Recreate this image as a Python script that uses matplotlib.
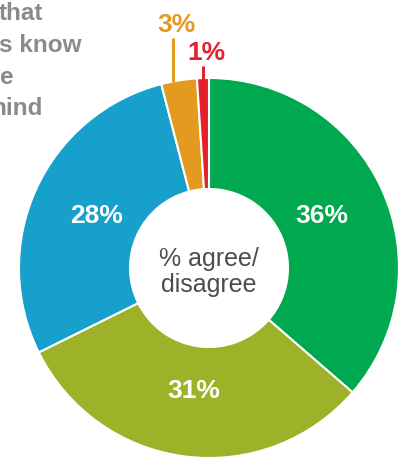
import matplotlib.pyplot as plt
import numpy as np

# slice values, clockwise from the top
labels = ['36%', '31%', '28%', '3%', '1%']
values = [36, 31, 28, 3, 1]
colors = ['#00A84F', '#9DB228', '#16A0CB', '#E39A1E', '#E4202B']
heading_lines = ['that', 's know', 'e', 'hind']
center_text = '% agree/\ndisagree'

W, H = 402, 459
plt.rcParams['font.family'] = ['Liberation Sans', 'DejaVu Sans']

fig = plt.figure(figsize=(W / 100, H / 100), dpi=100)
ax = fig.add_axes([0, 0, 1, 1])

cx, cy, r = 209, H - 268, 190
wedges, _ = ax.pie(values, colors=colors, startangle=90, counterclock=False,
                   center=(cx, cy), radius=r,
                   wedgeprops=dict(width=r - 79, edgecolor='white', linewidth=1.5))
ax.set_xlim(0, W)
ax.set_ylim(0, H)
ax.set_aspect('equal')
ax.axis('off')

total = float(sum(values))
start = 90.0
for i, (lab, v) in enumerate(zip(labels, values)):
    mid = np.deg2rad(start - 360 * v / total / 2)
    start -= 360 * v / total
    if v >= 10:
        ax.text(cx + 124 * np.cos(mid), cy + 124 * np.sin(mid), lab,
                color='white', fontsize=19, fontweight='bold', ha='center', va='center')
    else:
        x0 = cx + r * np.cos(mid)
        y0 = cy + r * np.sin(mid)
        if v == 3:
            x0 -= 6
            top = H - 38
        else:
            top = H - 66
        ax.plot([x0, x0], [y0 - 2, top], color=colors[i], lw=2.2, solid_capstyle='butt')
        ax.text(x0 + 3, top + 1, lab, color=colors[i], fontsize=19, fontweight='bold',
                ha='center', va='bottom')

ax.text(cx, cy - 4, center_text, fontsize=18, color='#4d4d4d', ha='center', va='center',
        linespacing=1.15)

right_edges = [43, 82, 14, 43]
for j, (line, xr) in enumerate(zip(heading_lines, right_edges)):
    ax.text(xr, H - 14 - 31.5 * j, line, fontsize=17.5, fontweight='bold', color='#8a8a8a',
            ha='right', va='center')

fig.savefig('out.png', dpi=100)
